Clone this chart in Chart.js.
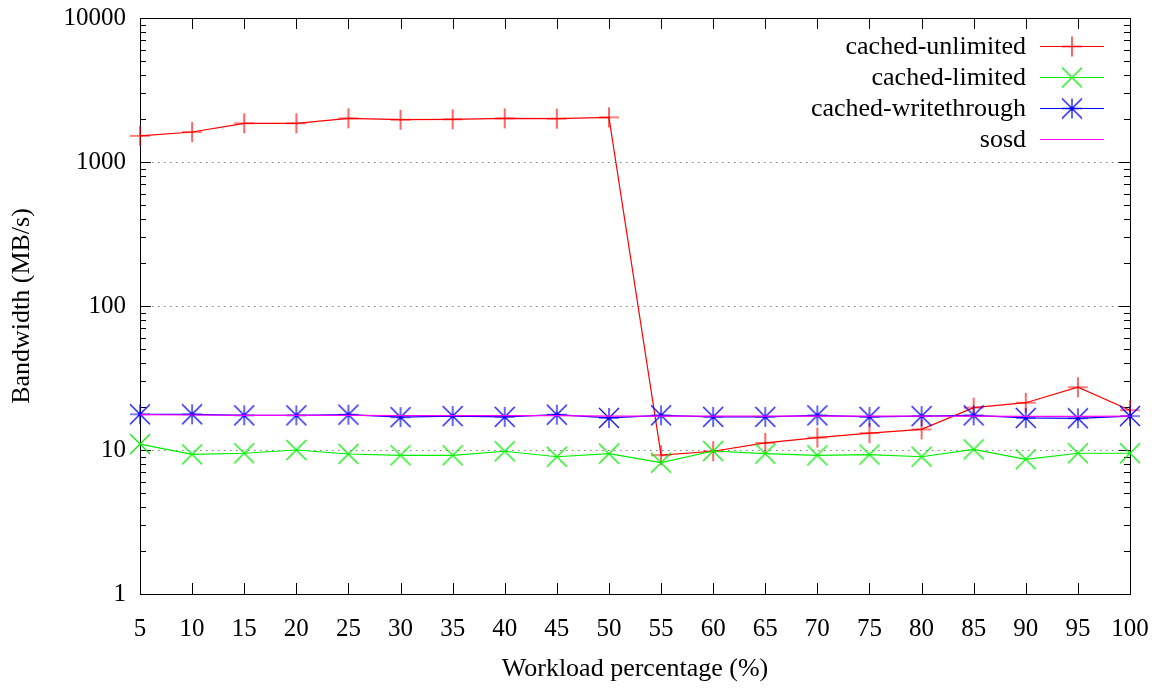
<!DOCTYPE html>
<html>
<head>
<meta charset="utf-8">
<script src="https://cdn.jsdelivr.net/npm/chart.js@4/dist/chart.umd.min.js"></script>
<style>
html,body{margin:0;padding:0;background:#fff;}
#wrap{width:1157px;height:691px;}
</style>
</head>
<body>
<div id="wrap"><canvas id="c" width="1157" height="691"></canvas></div>
<script>
const categories = ['5','10','15','20','25','30','35','40','45','50','55','60','65','70','75','80','85','90','95','100'];
const cachedUnlimited = [1520,1615,1857,1857,2010,1966,1980,2010,2000,2043,9.2,9.8,11.2,12.2,13.1,13.9,19.7,21.3,27.3,18.9];
const cachedLimited = [11.0,9.33,9.49,10.0,9.38,9.19,9.19,9.8,8.98,9.43,8.17,9.84,9.43,9.19,9.3,8.98,10.1,8.62,9.49,9.49];
const cachedWritethrough = [17.7,17.7,17.4,17.4,17.6,16.9,17.2,17.0,17.6,16.7,17.4,17.0,17.0,17.4,17.0,17.2,17.4,16.7,16.6,17.2];
const sosd = [17.6,17.5,17.4,17.4,17.4,17.3,17.3,17.3,17.3,17.2,17.2,17.2,17.2,17.2,17.2,17.2,17.2,17.1,17.1,17.2];
const yTickValues = [1,10,100,1000,10000];

const FONT = "'Liberation Serif','DejaVu Serif',serif";

function makeMarker(type, color) {
  const s = 24, c = document.createElement('canvas');
  c.width = s; c.height = s;
  const g = c.getContext('2d');
  g.strokeStyle = color; g.lineWidth = 1.2;
  const m = s/2, r = 10;
  g.beginPath();
  if (type === 'plus' || type === 'star') {
    g.moveTo(m - r, m); g.lineTo(m + r, m);
    g.moveTo(m, m - r); g.lineTo(m, m + r);
  }
  if (type === 'x' || type === 'star') {
    g.moveTo(m - r, m - r); g.lineTo(m + r, m + r);
    g.moveTo(m - r, m + r); g.lineTo(m + r, m - r);
  }
  g.stroke();
  return c;
}

const frameplugin = {
  id: 'frame',
  beforeDatasetsDraw(chart) {
    const {ctx, chartArea: a, scales} = chart;
    const y = scales.y, x = scales.x;
    ctx.save();
    ctx.strokeStyle = '#7f7f7f';
    ctx.lineWidth = 1;
    ctx.setLineDash([1.5, 4.5]);
    [10, 100, 1000].forEach(v => {
      const py = Math.round(y.getPixelForValue(v)) + 0.5;
      ctx.beginPath(); ctx.moveTo(a.left, py); ctx.lineTo(a.right, py); ctx.stroke();
    });
    ctx.setLineDash([]);
    ctx.strokeStyle = '#000';
    for (let d = 1; d <= 10000; d *= 10) {
      for (let k = 1; k <= 9; k++) {
        const v = d * k;
        if (v > 10000) break;
        const py = Math.round(y.getPixelForValue(v)) + 0.5;
        const len = (k === 1) ? 11 : 6;
        ctx.beginPath();
        ctx.moveTo(a.left, py); ctx.lineTo(a.left + len, py);
        ctx.moveTo(a.right, py); ctx.lineTo(a.right - len, py);
        ctx.stroke();
      }
    }
    categories.forEach((c, i) => {
      const px = Math.round(x.getPixelForValue(i)) + 0.5;
      ctx.beginPath();
      ctx.moveTo(px, a.bottom); ctx.lineTo(px, a.bottom - 11);
      ctx.moveTo(px, a.top); ctx.lineTo(px, a.top + 11);
      ctx.stroke();
    });
    ctx.strokeRect(Math.round(a.left) + 0.5, Math.round(a.top) + 0.5,
      Math.round(a.right - a.left), Math.round(a.bottom - a.top));
    ctx.restore();
  },
  afterDatasetsDraw(chart) {
    const ctx = chart.ctx;
    ctx.save();
    ctx.font = "26px " + FONT;
    ctx.fillStyle = '#000';
    ctx.textAlign = 'right';
    ctx.textBaseline = 'middle';
    const rows = [46, 77, 108, 139];
    chart.data.datasets.forEach((ds, i) => {
      const ry = rows[i];
      ctx.fillText(ds.label, 1026, ry + 1);
      ctx.strokeStyle = ds.borderColor;
      ctx.lineWidth = 1.2;
      ctx.beginPath(); ctx.moveTo(1040, Math.round(ry) + 0.5); ctx.lineTo(1104, Math.round(ry) + 0.5); ctx.stroke();
      if (ds.pointRadius > 0 && ds.pointStyle instanceof HTMLCanvasElement) {
        const img = ds.pointStyle;
        ctx.drawImage(img, 1072 - img.width / 2, Math.round(ry) + 0.5 - img.height / 2);
      }
    });
    ctx.restore();
  }
};

const ds = (label, data, color, marker, order) => ({
  label, data,
  borderColor: color,
  backgroundColor: color,
  borderWidth: 1.2,
  pointStyle: marker ? makeMarker(marker, color) : 'circle',
  pointRadius: marker ? 10 : 0,
  pointHoverRadius: marker ? 10 : 0,
  tension: 0,
  clip: false,
  order
});

new Chart(document.getElementById('c'), {
  type: 'line',
  data: {
    labels: categories,
    datasets: [
      ds('cached-unlimited', cachedUnlimited, '#ff0000', 'plus', 4),
      ds('cached-limited', cachedLimited, '#00ee00', 'x', 3),
      ds('cached-writethrough', cachedWritethrough, '#0000ff', 'star', 2),
      ds('sosd', sosd, '#ff00ff', null, 1)
    ]
  },
  options: {
    responsive: false,
    animation: false,
    events: [],
    layout: { padding: { left: 0, right: 27, top: 18, bottom: 0 } },
    plugins: { legend: { display: false }, tooltip: { enabled: false } },
    scales: {
      x: {
        type: 'category',
        offset: false,
        grid: { display: false, drawTicks: false },
        border: { display: false },
        ticks: { color: '#000', font: { family: FONT, size: 25 }, padding: 20, maxRotation: 0, autoSkip: false },
        title: { display: true, text: 'Workload percentage (%)', color: '#000', font: { family: FONT, size: 26 }, padding: { top: 0, bottom: 6 } },
        afterFit(s) { s.height = 97; s.paddingLeft = 0; s.paddingRight = 0; }
      },
      y: {
        type: 'logarithmic',
        min: 1, max: 10000,
        grid: { display: false, drawTicks: false },
        border: { display: false },
        afterBuildTicks(s) { s.ticks = yTickValues.map(v => ({ value: v })); },
        ticks: {
          color: '#000', font: { family: FONT, size: 25 }, padding: 14,
          callback: v => String(v)
        },
        title: { display: true, text: 'Bandwidth (MB/s)', color: '#000', font: { family: FONT, size: 26 }, padding: { top: 7, bottom: 0 } },
        afterFit(s) { s.width = 140; s.paddingTop = 0; s.paddingBottom = 0; }
      }
    }
  },
  plugins: [frameplugin]
});
</script>
</body>
</html>
